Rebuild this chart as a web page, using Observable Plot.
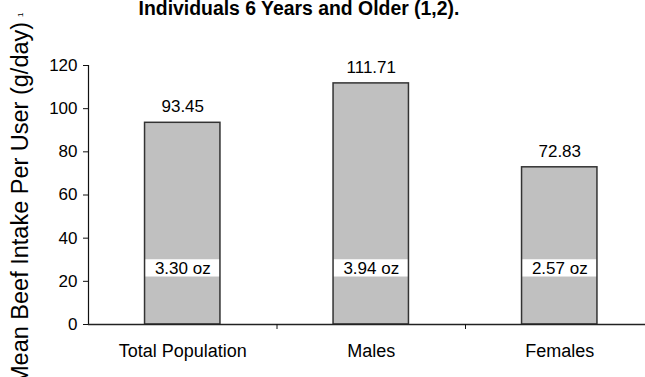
<!DOCTYPE html>
<html><head><meta charset="utf-8">
<script src="https://cdn.jsdelivr.net/npm/d3@7"></script>
<script src="https://cdn.jsdelivr.net/npm/@observablehq/plot@0.6"></script>
<style>
html,body{margin:0;padding:0;background:#fff;overflow:hidden;width:645px;height:377px}
#wrap{position:relative;width:645px;height:377px}
#title{position:absolute;left:0;top:-2px;width:598px;text-align:center;font:bold 19.4px "Liberation Sans",Arial,sans-serif;line-height:20px;color:#000;white-space:nowrap;z-index:2}
#chart{position:absolute;left:0;top:0}
</style></head><body>
<div id="wrap"><div id="title"></div><div id="chart"></div></div>
<script>
const titleText = "Individuals 6 Years and Older (1,2).";
const categories = ["Total Population", "Males", "Females"];
const intake = [93.45, 111.71, 72.83];
const ozLabels = ["3.30 oz", "3.94 oz", "2.57 oz"];
const yTicks = [0, 20, 40, 60, 80, 100, 120];
const yLabel = "Mean Beef Intake Per User (g/day)";
const yLabelNote = "1";

document.getElementById("title").textContent = titleText;

const rows = categories.map((c, i) => ({cat: c, i, value: intake[i], oz: ozLabels[i]}));
const barHalf = 0.2;        // half bar width, in category units
const ozY = 26, ozHalf = 4; // oz label box (data units)
const font = "'Liberation Sans', Arial, sans-serif";

const chart = Plot.plot({
  width: 645,
  height: 377,
  marginTop: 65,
  marginBottom: 53,
  marginLeft: 88,
  marginRight: 0,
  style: {fontFamily: font, fontSize: "17px", color: "#000", background: "transparent"},
  x: {domain: [0, 3], range: [88, 653.5], axis: null},
  y: {domain: [0, 120], axis: null},
  marks: [
    Plot.rectY(rows, {x1: d => d.i + 0.5 - barHalf, x2: d => d.i + 0.5 + barHalf, y1: 0, y2: "value", fill: "#c0c0c0"}),
    Plot.rectY(rows, {x1: d => d.i + 0.5 - barHalf, x2: d => d.i + 0.5 + barHalf, y1: ozY - ozHalf, y2: ozY + ozHalf, fill: "#fff"}),
    Plot.rectY(rows, {x1: d => d.i + 0.5 - barHalf, x2: d => d.i + 0.5 + barHalf, y1: 0, y2: "value", fill: "none", stroke: "#333", strokeWidth: 1.5}),
    Plot.text(rows, {x: d => d.i + 0.5, y: ozY, text: "oz", fontSize: 17, fill: "#000"}),
    Plot.text(rows, {x: d => d.i + 0.5, y: "value", text: d => d.value.toFixed(2), lineAnchor: "bottom", dy: -10.5, fontSize: 17, fill: "#000"}),
    Plot.ruleX([0], {stroke: "#111", strokeWidth: 1.2}),
    Plot.ruleY([0], {stroke: "#222", strokeWidth: 1.5}),
    Plot.axisY({ticks: yTicks, tickSize: 5, tickPadding: 6, fontSize: 17, label: null, stroke: "#111"}),
    Plot.axisX({ticks: [1, 2], tickSize: 5, tickFormat: () => "", label: null, stroke: "#111"}),
    Plot.axisX({ticks: [0.5, 1.5, 2.5], tickFormat: d => categories[Math.floor(d)], tickSize: 0, tickPadding: 20, fontSize: 18, label: null})
  ]
});
document.getElementById("chart").appendChild(chart);

const svg = d3.select(chart);
const t = svg.append("text")
  .attr("transform", "translate(28,385) rotate(-90)")
  .attr("text-anchor", "start")
  .attr("font-family", font)
  .attr("font-size", 23.5)
  .attr("fill", "#000");
t.append("tspan").text(yLabel);
t.append("tspan").attr("dx", 5).attr("dy", -5).attr("font-size", 8).text(yLabelNote);
</script>
</body></html>
